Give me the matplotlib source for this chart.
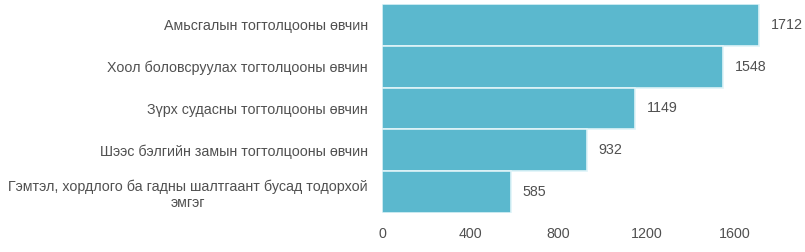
import matplotlib
matplotlib.use("Agg")
import matplotlib.pyplot as plt

categories = [
    "Амьсгалын тогтолцооны өвчин",
    "Хоол боловсруулах тогтолцооны өвчин",
    "Зүрх судасны тогтолцооны өвчин",
    "Шээс бэлгийн замын тогтолцооны өвчин",
    "Гэмтэл, хордлого ба гадны шалтгаант бусад тодорхой\nэмгэг",
]
values = [1712, 1548, 1149, 932, 585]
xticks = [0, 400, 800, 1200, 1600]

plt.rcParams['font.family'] = ['Liberation Sans', 'DejaVu Sans']
fig = plt.figure(figsize=(8.05, 2.52), dpi=100)
ax = fig.add_axes([0.4745, 0.155, 0.493, 0.829])

pos = list(range(len(categories)))
bars = ax.barh(pos, values, height=1.0, color="#5bb8ce", edgecolor="#dff3f8", linewidth=1.2)
ax.set_ylim(len(categories) - 0.5, -0.5)
ax.set_xlim(0, 1800)
ax.set_yticks(pos)
ax.set_yticklabels(categories, fontsize=10.3, color="#505050", multialignment="center")
ax.set_xticks(xticks)
ax.set_xticklabels([str(t) for t in xticks], fontsize=10.3, color="#505050")
ax.tick_params(axis="both", length=0)
ax.tick_params(axis="y", pad=10)
ax.tick_params(axis="x", pad=10)
for s in ax.spines.values():
    s.set_visible(False)

for p, v in zip(pos, values):
    ax.annotate(str(v), xy=(v, p), xytext=(8, 0), textcoords="offset points",
                va="center", ha="left", fontsize=10.3, color="#505050", annotation_clip=False)

fig.savefig("out.png", dpi=100, facecolor="white")
